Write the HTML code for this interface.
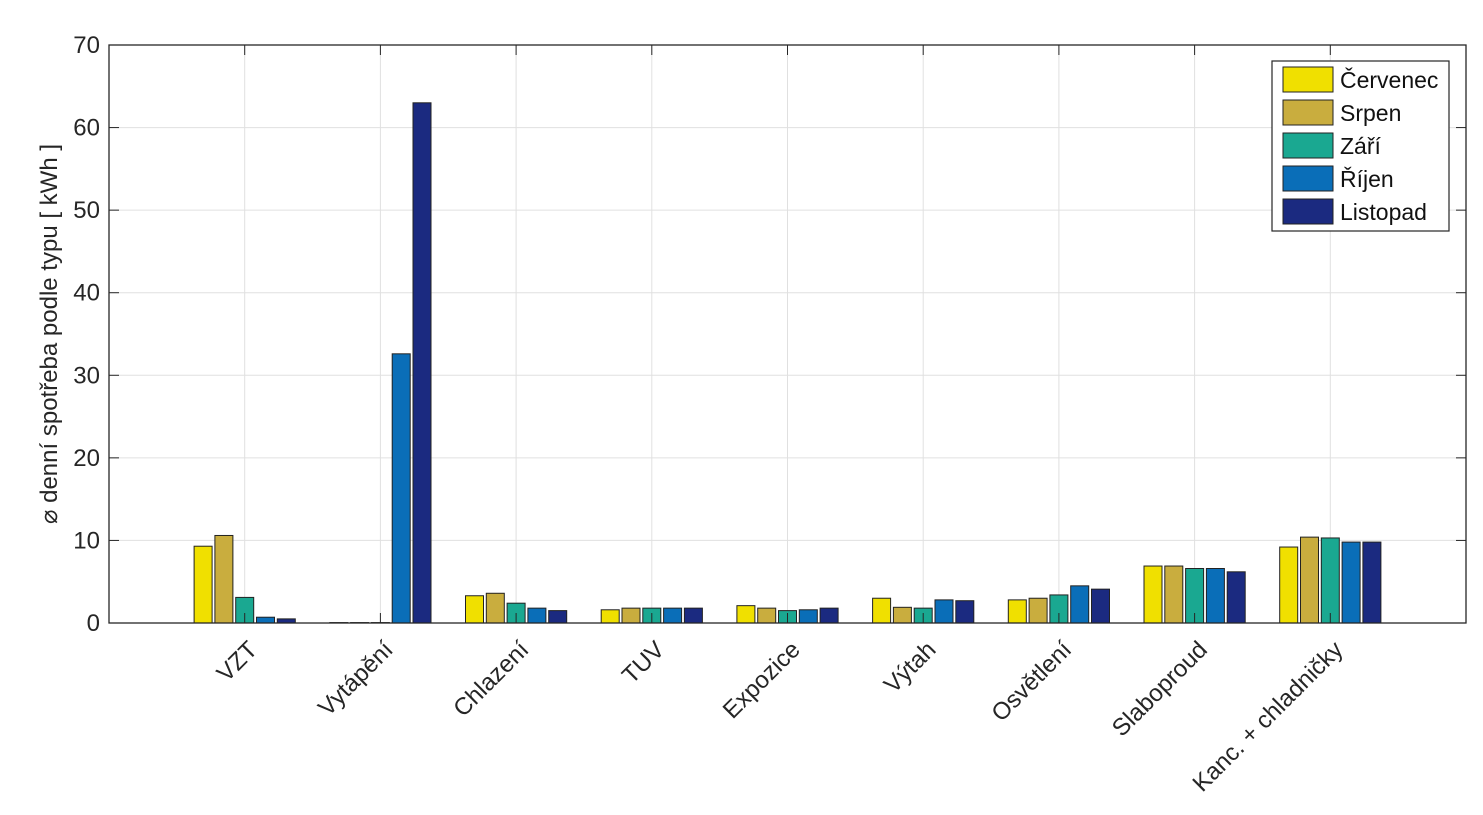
<!DOCTYPE html>
<html><head><meta charset="utf-8"><style>
body{margin:0;background:#fff;}
svg{display:block;font-family:"Liberation Sans",sans-serif;}
</style></head><body>
<svg id="chart" width="1483" height="815">
<g id="grid"></g>
<g id="bars"></g>
<g id="axes"></g>
<text transform="translate(57,334) rotate(-90)" text-anchor="middle" font-size="24" fill="#262626">⌀ denní spotřeba podle typu [ kWh ]</text>
<g id="legend"></g>
</svg>
<script>
const categories=["VZT","Vytápění","Chlazení","TUV","Expozice","Výtah","Osvětlení","Slaboproud","Kanc. + chladničky"];
const seriesNames=["Červenec","Srpen","Září","Říjen","Listopad"];
const cervenec=[9.3,0.05,3.3,1.6,2.1,3.0,2.8,6.9,9.2];
const srpen=[10.6,0.05,3.6,1.8,1.8,1.9,3.0,6.9,10.4];
const zari=[3.1,0.05,2.4,1.8,1.5,1.8,3.4,6.6,10.3];
const rijen=[0.7,32.6,1.8,1.8,1.6,2.8,4.5,6.6,9.8];
const listopad=[0.5,63,1.5,1.8,1.8,2.7,4.1,6.2,9.8];
const yTicks=[0,10,20,30,40,50,60,70];
const series=[cervenec,srpen,zari,rijen,listopad];
const colors=["#f0e000","#c9ad3e","#1aa891","#0a6eb8","#1b2a80"];
const L=109,R=1466,T=45,B=623,yMax=70,nSlots=categories.length+1;
const x=v=>L+(R-L)*v/nSlots;
const y=v=>B-(B-T)*v/yMax;
const NS="http://www.w3.org/2000/svg";
function mk(tag,attrs,parent){const e=document.createElementNS(NS,tag);for(const k in attrs)e.setAttribute(k,attrs[k]);parent.appendChild(e);return e;}
const grid=document.getElementById('grid'),bars=document.getElementById('bars'),axes=document.getElementById('axes'),legend=document.getElementById('legend');
yTicks.forEach(t=>{
 const l=mk('line',{x1:L,x2:R,y1:y(t),y2:y(t),stroke:'#e0e0e0','stroke-width':1},grid);
 
 
 const tk=mk('text',{x:L-9,y:y(t)+8,'text-anchor':'end','font-size':24,fill:'#262626'},axes);
 tk.textContent=t;
 
 
 mk('line',{x1:L,x2:L+10,y1:y(t),y2:y(t),stroke:'#262626'},axes);
 mk('line',{x1:R,x2:R-10,y1:y(t),y2:y(t),stroke:'#262626'},axes);
});
categories.forEach((c,i)=>{
 const cx=x(i+1);
 const g=mk('line',{x1:cx,x2:cx,y1:T,y2:B,stroke:'#e0e0e0'},grid);
 
 
 mk('line',{x1:cx,x2:cx,y1:B,y2:B-10,stroke:'#262626'},axes);
 mk('line',{x1:cx,x2:cx,y1:T,y2:T+10,stroke:'#262626'},axes);
 const lb=mk('text',{transform:`translate(${cx+14},${B+28}) rotate(-45)`,'text-anchor':'end','font-size':24,fill:'#262626'},axes);
 lb.textContent=c;
 
 
 series.forEach((s,j)=>{
  const bw=18,step=20.8;
  const bx=cx+(j-2)*step-bw/2;
  const r=mk('rect',{x:bx,y:y(s[i]),width:bw,height:Math.max(0,B-y(s[i])),fill:colors[j],stroke:'#222','stroke-width':1},bars);
  
  
 });
});
const frame=mk('rect',{x:L,y:T,width:R-L,height:B-T,fill:'none',stroke:'#262626','stroke-width':1.3},axes);


const lbox=mk('rect',{x:1272,y:61,width:177,height:170,fill:'#fff',stroke:'#262626','stroke-width':1.2},legend);


seriesNames.forEach((n,j)=>{
 const yy=67+j*33;
 const sw=mk('rect',{x:1283,y:yy,width:50,height:25,fill:colors[j],stroke:'#222'},legend);
 
 
 const t=mk('text',{x:1340,y:yy+21,'font-size':23,fill:'#111'},legend);
 t.textContent=n;
 
 
});
</script>
</body></html>
